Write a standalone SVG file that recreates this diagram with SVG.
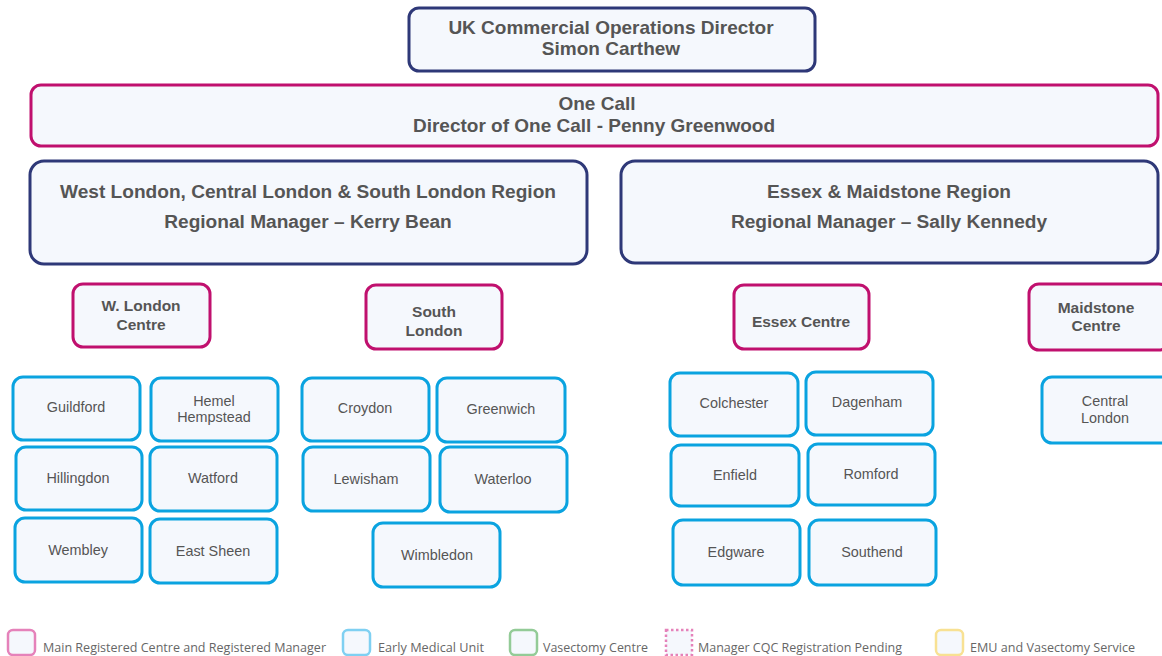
<svg xmlns="http://www.w3.org/2000/svg" width="1162" height="656" viewBox="0 0 1162 656">
<style>
.bg{fill:#ffffff}
.navy{fill:#F5F8FD;stroke:#2E3878;stroke-width:3}
.pink{fill:#F5F8FD;stroke:#C0106E;stroke-width:3}
.blue{fill:#F5F8FD;stroke:#0AA3E0;stroke-width:3}
.t{font-family:"Liberation Sans",Arial,sans-serif;fill:#555555;text-anchor:middle}
.b17{font-size:19px;font-weight:bold}
.b18{font-size:19.1px;font-weight:bold}
.b14{font-size:15.5px;font-weight:bold}
.n13{font-size:14.4px}
.lg{font-family:"Open Sans","Liberation Sans",sans-serif;font-size:12px;fill:#666666}
.lbox{fill:#F5F8FD;stroke-width:2.5}
</style>
<rect class="bg" x="0" y="0" width="1162" height="656"/>
<g id="connectors"></g>

<g id="director">
<rect class="navy" x="409" y="8" width="406" height="63" rx="10"/>
<text class="t b17" x="611" y="34">UK Commercial Operations Director</text>
<text class="t b17" x="611" y="55">Simon Carthew</text>
</g>

<g id="onecall">
<rect class="pink" x="31" y="85" width="1127" height="61" rx="10"/>
<text class="t b17" x="597" y="110">One Call</text>
<text class="t b17" x="594" y="132">Director of One Call - Penny Greenwood</text>
</g>

<g id="west-region">
<rect class="navy" x="30" y="161" width="557" height="103" rx="14"/>
<text class="t b18" x="308" y="198">West London, Central London &amp; South London Region</text>
<text class="t b18" x="308" y="228">Regional Manager – Kerry Bean</text>
</g>

<g id="essex-region">
<rect class="navy" x="621" y="161" width="537" height="102" rx="14"/>
<text class="t b18" x="889" y="198">Essex &amp; Maidstone Region</text>
<text class="t b18" x="889" y="228">Regional Manager – Sally Kennedy</text>
</g>

<g id="wlondon-centre">
<rect class="pink" x="73" y="284" width="137" height="63" rx="10"/>
<text class="t b14" x="141" y="311">W. London</text>
<text class="t b14" x="141" y="330">Centre</text>
</g>

<g id="south-london">
<rect class="pink" x="366" y="285" width="136" height="64" rx="10"/>
<text class="t b14" x="434" y="317">South</text>
<text class="t b14" x="434" y="336">London</text>
</g>

<g id="essex-centre">
<rect class="pink" x="734" y="285" width="135" height="64" rx="10"/>
<text class="t b14" x="801" y="327">Essex Centre</text>
</g>

<g id="maidstone-centre">
<rect class="pink" x="1029" y="284" width="140" height="66" rx="10"/>
<text class="t b14" x="1096" y="313">Maidstone</text>
<text class="t b14" x="1096" y="331">Centre</text>
</g>

<g id="guildford"><rect class="blue" x="13" y="377" width="127" height="63" rx="10"/><text class="t n13" x="76" y="412">Guildford</text></g>
<g id="hemel"><rect class="blue" x="151" y="378" width="127" height="63" rx="10"/><text class="t n13" x="214" y="406">Hemel</text><text class="t n13" x="214" y="422">Hempstead</text></g>
<g id="hillingdon"><rect class="blue" x="16" y="447" width="126" height="63" rx="10"/><text class="t n13" x="78" y="483">Hillingdon</text></g>
<g id="watford"><rect class="blue" x="150" y="447" width="127" height="64" rx="10"/><text class="t n13" x="213" y="483">Watford</text></g>
<g id="wembley"><rect class="blue" x="15" y="518" width="127" height="64" rx="10"/><text class="t n13" x="78" y="555">Wembley</text></g>
<g id="eastsheen"><rect class="blue" x="150" y="519" width="127" height="64" rx="10"/><text class="t n13" x="213" y="556">East Sheen</text></g>

<g id="croydon"><rect class="blue" x="302" y="378" width="127" height="63" rx="10"/><text class="t n13" x="365" y="413">Croydon</text></g>
<g id="greenwich"><rect class="blue" x="437" y="378" width="128" height="64" rx="10"/><text class="t n13" x="501" y="414">Greenwich</text></g>
<g id="lewisham"><rect class="blue" x="303" y="447" width="127" height="64" rx="10"/><text class="t n13" x="366" y="484">Lewisham</text></g>
<g id="waterloo"><rect class="blue" x="440" y="447" width="127" height="65" rx="10"/><text class="t n13" x="503" y="484">Waterloo</text></g>
<g id="wimbledon"><rect class="blue" x="373" y="523" width="127" height="64" rx="10"/><text class="t n13" x="437" y="560">Wimbledon</text></g>

<g id="colchester"><rect class="blue" x="670" y="373" width="128" height="63" rx="10"/><text class="t n13" x="734" y="408">Colchester</text></g>
<g id="dagenham"><rect class="blue" x="806" y="372" width="127" height="63" rx="10"/><text class="t n13" x="867" y="407">Dagenham</text></g>
<g id="enfield"><rect class="blue" x="671" y="445" width="128" height="61" rx="10"/><text class="t n13" x="735" y="480">Enfield</text></g>
<g id="romford"><rect class="blue" x="808" y="444" width="127" height="61" rx="10"/><text class="t n13" x="871" y="479">Romford</text></g>
<g id="edgware"><rect class="blue" x="673" y="520" width="127" height="65" rx="10"/><text class="t n13" x="736" y="557">Edgware</text></g>
<g id="southend"><rect class="blue" x="809" y="520" width="127" height="65" rx="10"/><text class="t n13" x="872" y="557">Southend</text></g>

<g id="central-london"><rect class="blue" x="1042" y="377" width="130" height="66" rx="10"/><text class="t n13" x="1105" y="406">Central</text><text class="t n13" x="1105" y="423">London</text></g>

<g id="legend">
<rect class="lbox" x="8" y="630" width="27" height="25" rx="5" stroke="#E582BA"/>
<text class="lg" x="43" y="652" textLength="283" lengthAdjust="spacingAndGlyphs">Main Registered Centre and Registered Manager</text>
<rect class="lbox" x="343" y="630" width="27" height="25" rx="5" stroke="#7FD0F2"/>
<text class="lg" x="378" y="652" textLength="106" lengthAdjust="spacingAndGlyphs">Early Medical Unit</text>
<rect class="lbox" x="510" y="630" width="27" height="25" rx="5" stroke="#93CB97"/>
<text class="lg" x="543" y="652" textLength="105" lengthAdjust="spacingAndGlyphs">Vasectomy Centre</text>
<rect class="lbox" x="666" y="630" width="26" height="25" fill="none" stroke="#E582BA" stroke-dasharray="2.5,2.5"/>
<text class="lg" x="698" y="652" textLength="204" lengthAdjust="spacingAndGlyphs">Manager CQC Registration Pending</text>
<rect class="lbox" x="936" y="630" width="27" height="25" rx="5" stroke="#F8E193"/>
<text class="lg" x="970" y="652" textLength="165" lengthAdjust="spacingAndGlyphs">EMU and Vasectomy Service</text>
</g>
</svg>
